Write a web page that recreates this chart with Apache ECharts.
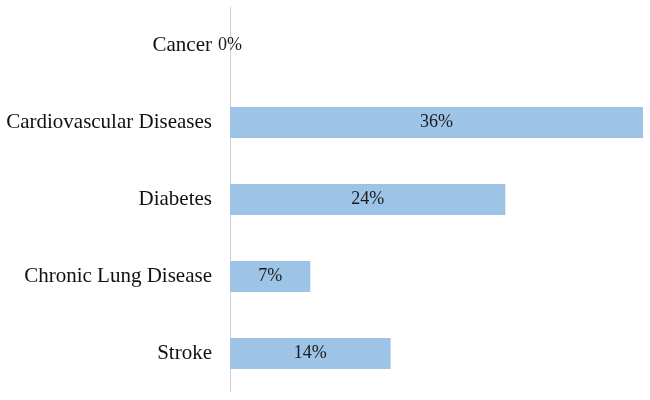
<!DOCTYPE html>
<html>
<head>
<meta charset="utf-8">
<script src="https://cdn.jsdelivr.net/npm/echarts@6/dist/echarts.min.js"></script>
<style>
  html, body { margin: 0; padding: 0; background: #fff; }
  #chart { width: 650px; height: 400px; }
</style>
</head>
<body>
<div id="chart"></div>
<script>
const categories = ['Cancer', 'Cardiovascular Diseases', 'Diabetes', 'Chronic Lung Disease', 'Stroke']
const values = [0, 36, 24, 7, 14]

const chart = echarts.init(document.getElementById('chart'))

chart.setOption({
  animation: false,
  grid: { left: 230, right: 7, top: 7, bottom: 8 },
  xAxis: {
    type: 'value',
    min: 0,
    max: 36,
    show: false,
  },
  yAxis: {
    type: 'category',
    data: categories,
    inverse: true,
    axisLine: { show: true, lineStyle: { color: '#d0d0d0', width: 1 } },
    axisTick: { show: false },
    axisLabel: {
      margin: 18,
      fontFamily: 'Liberation Serif',
      fontSize: 21,
      color: '#111',
    },
  },
  series: [{
    type: 'bar',
    data: values,
    barWidth: 31,
    itemStyle: { color: '#9dc3e6' },
    label: {
      show: true,
      position: 'inside',
      formatter: '{c}%',
      fontFamily: 'Liberation Serif',
      fontSize: 18,
      color: '#1a1a1a',
    },
  }],
})
</script>
</body>
</html>
